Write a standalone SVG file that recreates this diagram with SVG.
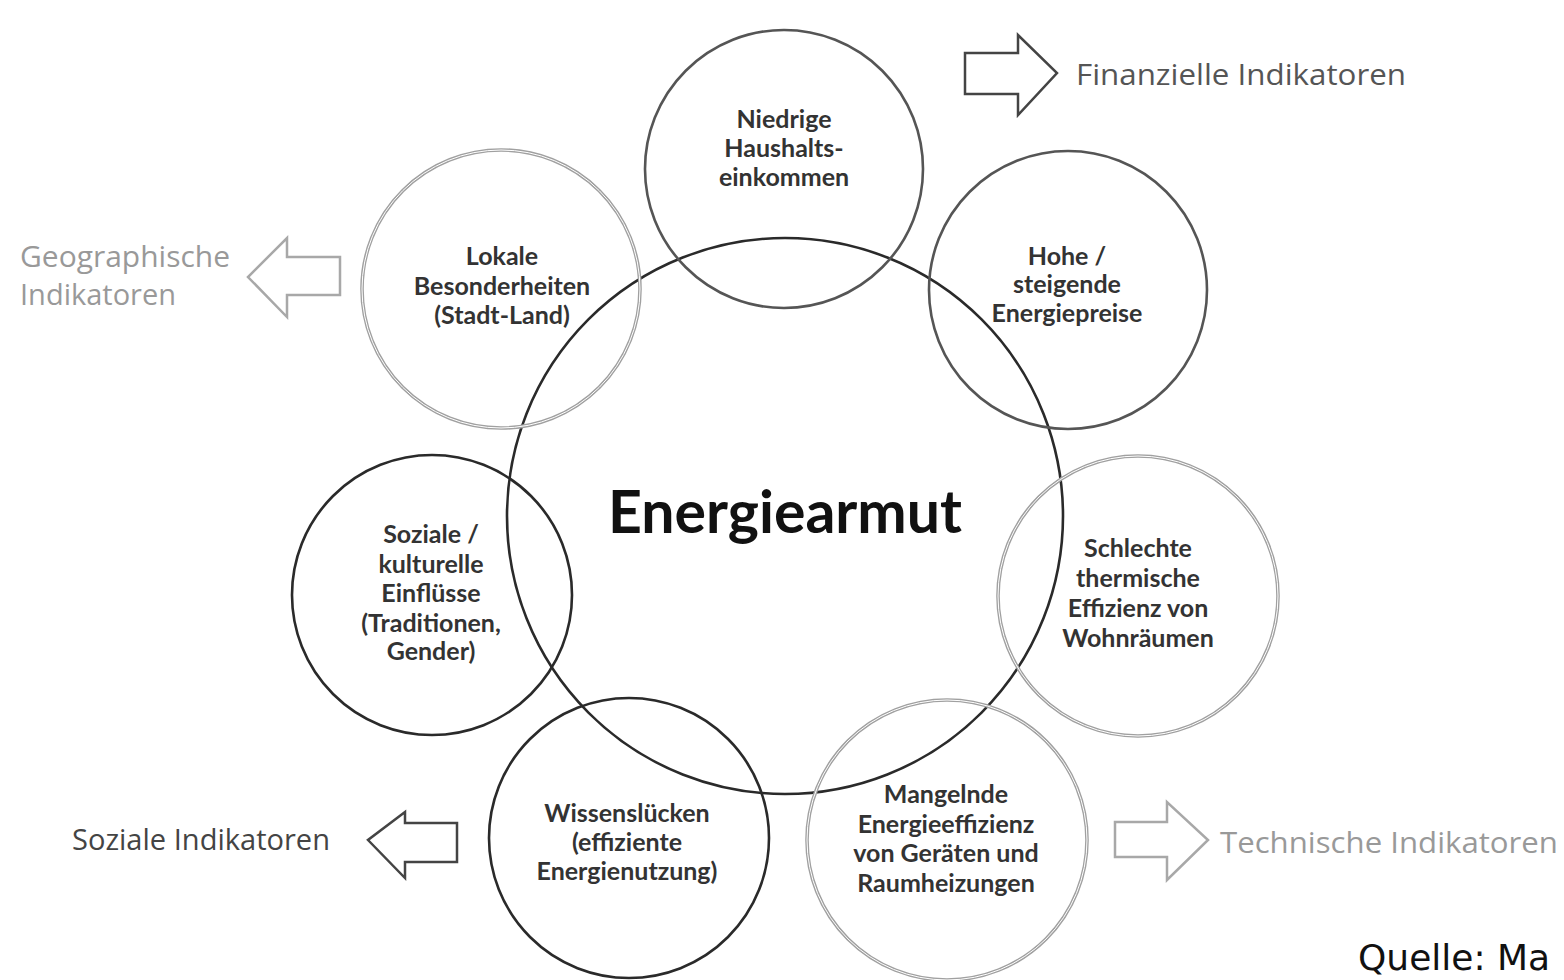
<svg xmlns="http://www.w3.org/2000/svg" width="1564" height="980" viewBox="0 0 1564 980">
<style>
.bg{fill:#ffffff}
.c-dark{fill:none;stroke:#2a2a2a;stroke-width:2.6}
.c-mid{fill:none;stroke:#555555;stroke-width:2.6}
.c-light{fill:none;stroke:#a0a0a0;stroke-width:3.6}
.c-light-in{fill:none;stroke:#ffffff;stroke-width:1}
.lbl{font-family:Lato,"Liberation Sans",sans-serif;font-weight:bold;font-size:25px;fill:#333333;text-anchor:middle}
.title{font-family:Lato,"Liberation Sans",sans-serif;font-weight:bold;font-size:59px;fill:#111111;text-anchor:middle}
.ind{font-family:"Open Sans","Liberation Sans",sans-serif;font-size:29px}
.arr-dark{fill:#ffffff;stroke:#444444;stroke-width:2.5;stroke-linejoin:miter}
.arr-light{fill:#ffffff;stroke:#a8a8a8;stroke-width:2.5;stroke-linejoin:miter}
.src{font-family:"DejaVu Sans",Verdana,sans-serif;font-size:36px;fill:#111111}
</style>
<rect class="bg" x="0" y="0" width="1564" height="980"/>

<g id="center">
  <circle class="c-dark" cx="785" cy="516" r="278"/>
  <text class="title" x="785" y="533">Energiearmut</text>
</g>

<g id="niedrige">
  <circle class="c-mid" cx="784" cy="169" r="139"/>
  <text class="lbl"><tspan x="784" y="128">Niedrige</tspan><tspan x="784" y="157">Haushalts-</tspan><tspan x="784" y="186">einkommen</tspan></text>
</g>

<g id="lokale">
  <circle class="c-light" cx="501" cy="289" r="139"/>
  <circle class="c-light-in" cx="501" cy="289" r="139"/>
  <text class="lbl"><tspan x="502" y="265">Lokale</tspan><tspan x="502" y="295">Besonderheiten</tspan><tspan x="502" y="324">(Stadt-Land)</tspan></text>
</g>

<g id="hohe">
  <circle class="c-mid" cx="1068" cy="290" r="139"/>
  <text class="lbl"><tspan x="1067" y="265">Hohe /</tspan><tspan x="1067" y="293">steigende</tspan><tspan x="1067" y="322">Energiepreise</tspan></text>
</g>

<g id="soziale">
  <circle class="c-dark" cx="432" cy="595" r="140"/>
  <text class="lbl"><tspan x="431" y="543">Soziale /</tspan><tspan x="431" y="573">kulturelle</tspan><tspan x="431" y="602">Einflüsse</tspan><tspan x="431" y="632">(Traditionen,</tspan><tspan x="431" y="660">Gender)</tspan></text>
</g>

<g id="schlechte">
  <circle class="c-light" cx="1138" cy="596" r="140"/>
  <circle class="c-light-in" cx="1138" cy="596" r="140"/>
  <text class="lbl"><tspan x="1138" y="557">Schlechte</tspan><tspan x="1138" y="587">thermische</tspan><tspan x="1138" y="617">Effizienz von</tspan><tspan x="1138" y="647">Wohnräumen</tspan></text>
</g>

<g id="wissen">
  <circle class="c-dark" cx="629" cy="838" r="140"/>
  <text class="lbl"><tspan x="627" y="822">Wissenslücken</tspan><tspan x="627" y="851">(effiziente</tspan><tspan x="627" y="880">Energienutzung)</tspan></text>
</g>

<g id="mangelnde">
  <circle class="c-light" cx="947" cy="840" r="140"/>
  <circle class="c-light-in" cx="947" cy="840" r="140"/>
  <text class="lbl"><tspan x="946" y="803">Mangelnde</tspan><tspan x="946" y="833">Energieeffizienz</tspan><tspan x="946" y="862">von Geräten und</tspan><tspan x="946" y="892">Raumheizungen</tspan></text>
</g>

<g id="connectors">
  <path class="arr-dark" d="M965,53 L1018,53 L1018,35 L1057,73 L1018,115 L1018,94 L965,94 Z"/>
  <path class="arr-light" d="M340,257 L287,257 L287,238 L248,277 L287,317 L287,295 L340,295 Z"/>
  <path class="arr-dark" d="M457,823 L405,823 L405,812 L368,840 L405,878 L405,862 L457,862 Z"/>
  <path class="arr-light" d="M1115,822 L1167,822 L1167,802 L1208,840 L1167,880 L1167,857 L1115,857 Z"/>
</g>

<g id="ind-fin"><text class="ind" x="1076" y="85" fill="#555555" textLength="330" lengthAdjust="spacingAndGlyphs">Finanzielle Indikatoren</text></g>
<g id="ind-geo"><text class="ind" fill="#999999"><tspan x="20" y="267" textLength="210" lengthAdjust="spacingAndGlyphs">Geographische</tspan><tspan x="20" y="305">Indikatoren</tspan></text></g>
<g id="ind-soz"><text class="ind" x="72" y="850" fill="#444444" textLength="258" lengthAdjust="spacingAndGlyphs">Soziale Indikatoren</text></g>
<g id="ind-tech"><text class="ind" x="1220" y="853" fill="#999999" textLength="338" lengthAdjust="spacingAndGlyphs">Technische Indikatoren</text></g>

<text class="src" x="1358" y="970">Quelle: Ma</text>
</svg>
